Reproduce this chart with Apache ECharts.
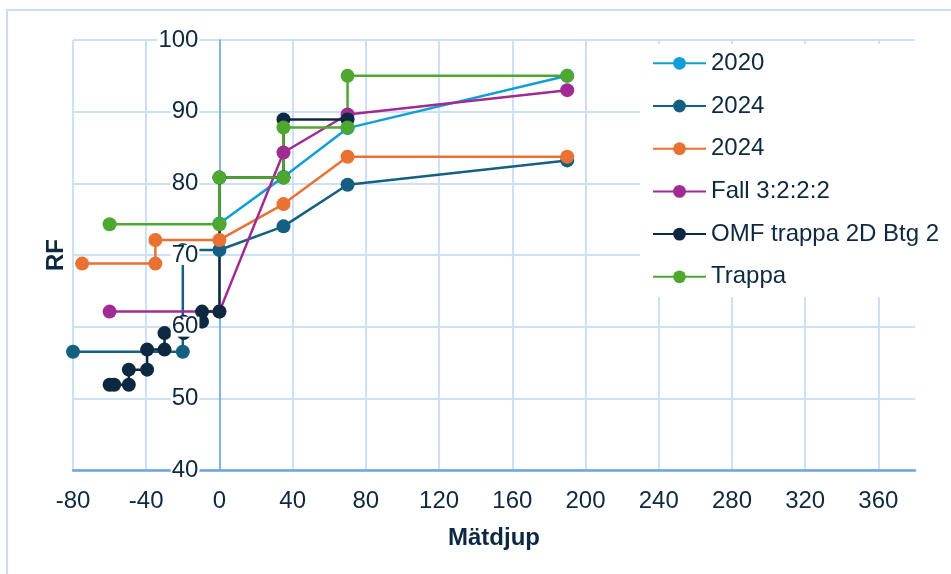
<!DOCTYPE html>
<html>
<head>
<meta charset="utf-8">
<script src="https://cdn.jsdelivr.net/npm/echarts@6/dist/echarts.min.js"></script>
<style>
  html, body { margin: 0; padding: 0; background: #ffffff; }
  #chart { width: 951px; height: 574px; }
</style>
</head>
<body>
<div id="chart"></div>
<script>
// Series labels shown in the legend (two runs share the label "2024")
const legendLabels = ['2020', '2024', '2024', 'Fall 3:2:2:2', 'OMF trappa 2D Btg 2', 'Trappa'];
const seriesColors = ['#0F9ED5', '#156082', '#E97132', '#A02B93', '#0E2841', '#4EA72E'];

// Mätdjup (x) and RF (y) per series
const x2020 = [0, 35, 70, 190];
const y2020 = [74.4, 80.9, 87.7, 95.0];

const x2024a = [190, 70, 35, 0, -20, -20, -80];
const y2024a = [83.2, 79.8, 74.0, 70.7, 70.7, 56.5, 56.5];

const x2024b = [190, 70, 35, 0, -35, -35, -75];
const y2024b = [83.7, 83.7, 77.1, 72.1, 72.1, 68.8, 68.8];

const xFall = [-60, 0, 35, 70, 190];
const yFall = [62.1, 62.1, 84.3, 89.6, 93.0];

const xOmf = [-60, -57.5, -49.5, -49.5, -39.5, -39.5, -30, -30, -19.5, -19.5, -9.5, -9.5, 0, 0, 35, 35, 70];
const yOmf = [51.9, 51.9, 51.9, 54.0, 54.0, 56.8, 56.8, 59.1, 59.1, 60.7, 60.7, 62.1, 62.1, 80.8, 80.8, 88.9, 88.9];

const xTrappa = [-60, 0, 0, 35, 35, 70, 70, 190];
const yTrappa = [74.3, 74.3, 80.8, 80.8, 87.8, 87.8, 95.0, 95.0];

// Axis ranges
const xMin = -80, xMax = 380, xStep = 40;
const yMin = 40, yMax = 100, yStep = 10;

const seriesX = [x2020, x2024a, x2024b, xFall, xOmf, xTrappa];
const seriesY = [y2020, y2024a, y2024b, yFall, yOmf, yTrappa];

const FONT = "'Liberation Sans', Arial, sans-serif";
const TEXT = '#0E2841';
const GRID_LINE = '#CCE0F6';
const AXIS_LINE = '#6FA3DB';

const gridLeft = 73, gridRight = 36, chartWidth = 951;
const gridWidth = chartWidth - gridLeft - gridRight;
// the y labels sit on the x = 0 line
const zeroOffset = -((0 - xMin) / (xMax - xMin)) * gridWidth;

// unique internal names so the two "2024" entries stay separate in the legend
const seriesNames = legendLabels.map((l, i) => l + ' '.repeat(legendLabels.slice(0, i).filter(p => p === l).length));

const series = seriesNames.map((name, i) => ({
  type: 'line',
  name: name,
  data: seriesX[i].map((x, k) => [x, seriesY[i][k]]),
  symbol: 'circle',
  symbolSize: 14,
  showSymbol: true,
  color: seriesColors[i],
  lineStyle: { width: 2.5, color: seriesColors[i] },
  itemStyle: { color: seriesColors[i] },
  animation: false,
  z: 2
}));

const chart = echarts.init(document.getElementById('chart'), null, { renderer: 'canvas' });
chart.setOption({
  backgroundColor: '#ffffff',
  animation: false,
  graphic: [{
    type: 'rect',
    silent: true,
    z: -10,
    shape: { x: 7, y: 10, width: 2000, height: 2000 },
    style: { fill: 'none', stroke: '#C8DCF3', lineWidth: 2 }
  }],
  grid: { left: gridLeft, right: gridRight, top: 40, bottom: 104, containLabel: false },
  legend: {
    orient: 'vertical',
    left: 640,
    top: 44,
    padding: [7.3, 10, 8.2, 12],
    itemGap: 18.7,
    itemWidth: 53,
    itemHeight: 16,
    backgroundColor: '#ffffff',
    selectedMode: false,
    data: seriesNames,
    formatter: n => n.trim(),
    textStyle: { fontSize: 24, color: TEXT, fontFamily: FONT }
  },
  xAxis: {
    type: 'value',
    min: xMin, max: xMax, interval: xStep,
    name: 'Mätdjup',
    nameLocation: 'middle',
    nameGap: 56,
    nameTextStyle: { fontSize: 24, fontWeight: 'bold', color: TEXT, fontFamily: FONT },
    axisLine: { show: true, onZero: false, lineStyle: { color: AXIS_LINE, width: 2.5 } },
    axisTick: { show: false },
    axisLabel: { fontSize: 24, color: TEXT, fontFamily: FONT, margin: 19, showMaxLabel: false },
    splitLine: { show: true, showMinLine: true, showMaxLine: false, lineStyle: { color: GRID_LINE, width: 2 } }
  },
  yAxis: [{
    type: 'value',
    min: yMin, max: yMax, interval: yStep,
    axisLine: { show: true, onZero: true, lineStyle: { color: AXIS_LINE, width: 1.5 } },
    axisTick: { show: false },
    axisLabel: { show: false },
    splitLine: { show: true, lineStyle: { color: GRID_LINE, width: 2 } }
  }, {
    type: 'value',
    min: yMin, max: yMax, interval: yStep,
    position: 'left',
    offset: zeroOffset,
    z: 6,
    name: 'RF',
    nameLocation: 'middle',
    nameGap: 151,
    nameTextStyle: { fontSize: 24, fontWeight: 'bold', color: TEXT, fontFamily: FONT },
    axisLine: { show: false, onZero: false },
    axisTick: { show: false },
    splitLine: { show: false },
    axisLabel: {
      fontSize: 24, color: TEXT, fontFamily: FONT, margin: 20,
      backgroundColor: '#ffffff', padding: [0, 1], lineHeight: 20
    }
  }],
  series: series
});
</script>
</body>
</html>
